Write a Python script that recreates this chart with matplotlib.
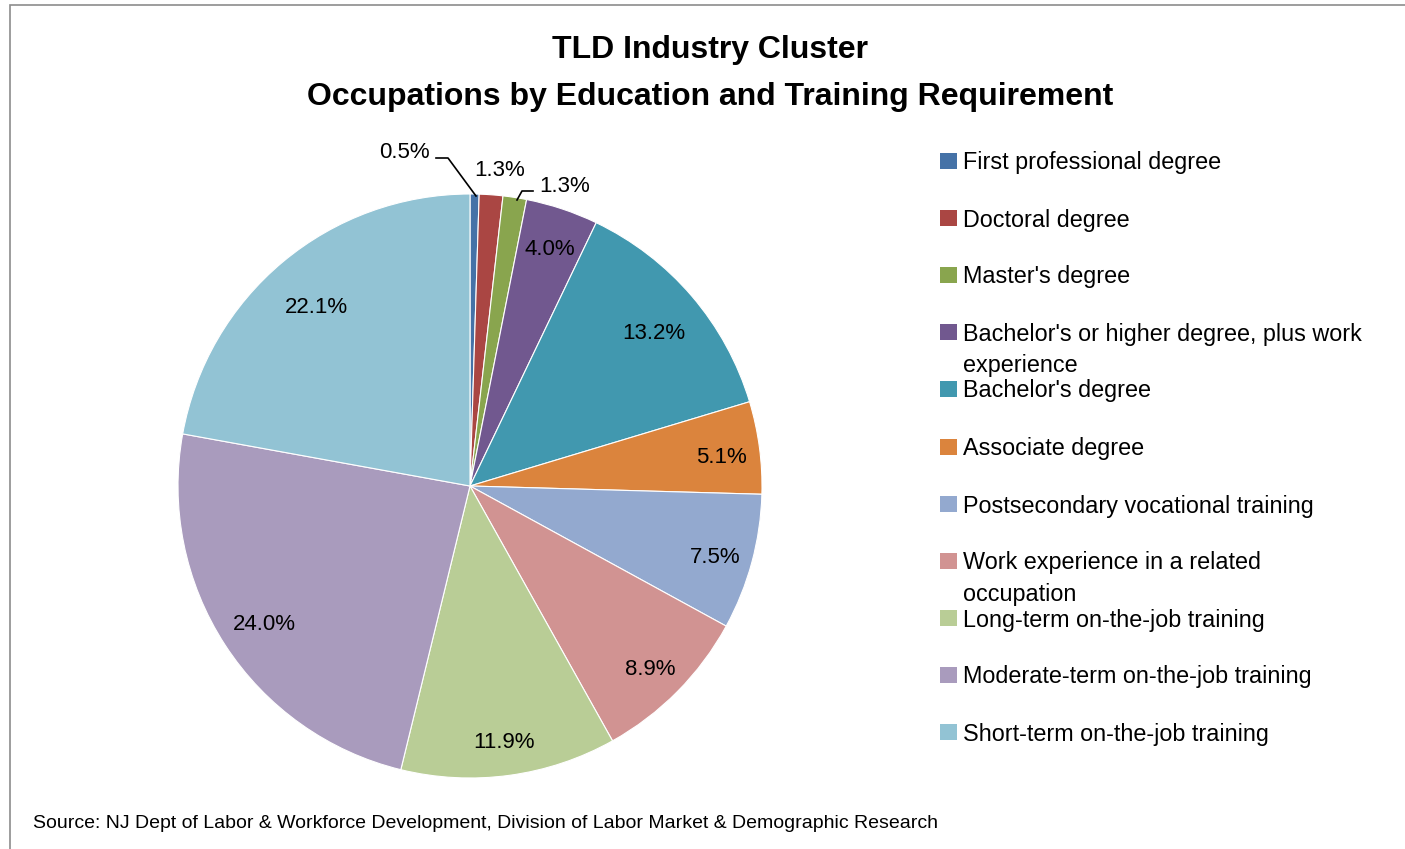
import matplotlib
matplotlib.use("Agg")
import matplotlib.pyplot as plt
from matplotlib.patches import Rectangle
import numpy as np

categories = [
    "First professional degree",
    "Doctoral degree",
    "Master's degree",
    "Bachelor's or higher degree, plus work\nexperience",
    "Bachelor's degree",
    "Associate degree",
    "Postsecondary vocational training",
    "Work experience in a related\noccupation",
    "Long-term on-the-job training",
    "Moderate-term on-the-job training",
    "Short-term on-the-job training",
]
values = [0.5, 1.3, 1.3, 4.0, 13.2, 5.1, 7.5, 8.9, 11.9, 24.0, 22.1]
colors = ["#4572A7", "#AA4643", "#89A54E", "#71588F", "#4198AF", "#DB843D",
          "#93A9CF", "#D19392", "#B9CD96", "#A99BBD", "#92C3D4"]
source = "Source: NJ Dept of Labor & Workforce Development, Division of Labor Market & Demographic Research"

W, H = 1405, 849
fig = plt.figure(figsize=(W / 100, H / 100), dpi=100)
plt.rcParams['font.family'] = ['Liberation Sans', 'DejaVu Sans']

# border
fig.patches.append(Rectangle((10 / W, -0.05), 1.2, 1 - 5 / H + 0.05, transform=fig.transFigure,
                             fill=False, edgecolor="#8c8c8c", linewidth=1.2))

cx, cy, r = 470, 486, 292
ax = fig.add_axes([(cx - r) / W, (H - cy - r) / H, 2 * r / W, 2 * r / H])

wedges, _ = ax.pie(values, colors=colors, startangle=90, counterclock=False,
                   radius=1, wedgeprops=dict(edgecolor="white", linewidth=0.8))
ax.set_xlim(-1, 1)
ax.set_ylim(-1, 1)
ax.set_aspect("equal")
ax.axis("off")

LFS = 16
total = sum(values)
cum = 0
inside_dist = {4: 0.83, 9: 0.84, 10: 0.82}
dy = -5 / r
for i, v in enumerate(values):
    mid = (cum + v / 2) / total
    cum += v
    ang = np.deg2rad(90 - 360 * mid)
    lab = f"{v:.1f}%"
    if i >= 3:
        d = inside_dist.get(i, 0.87)
        ax.text(d * np.cos(ang), d * np.sin(ang) + dy, lab, ha="center", va="center",
                fontsize=LFS)

def px(x, y):
    return ((x - cx) / r, (cy - y) / r)

# outside labels for small slices
ax.text(*px(404, 153), "0.5%", ha="center", va="center", fontsize=LFS, clip_on=False)
ax.plot(*zip(px(476, 196), px(448, 158), px(436, 158)), color="black", lw=1.2, clip_on=False)
ax.text(*px(500, 170), "1.3%", ha="center", va="center", fontsize=LFS, clip_on=False)
ax.text(*px(565, 186), "1.3%", ha="center", va="center", fontsize=LFS, clip_on=False)
ax.plot(*zip(px(517, 200), px(522, 191), px(533, 191)), color="black", lw=1.2, clip_on=False)

# title
fig.text(710 / W, 1 - 50 / H, "TLD Industry Cluster", ha="center", va="center",
         fontsize=23, fontweight="bold")
fig.text(710 / W, 1 - 97 / H, "Occupations by Education and Training Requirement",
         ha="center", va="center", fontsize=23, fontweight="bold")

# legend
leg_y = [161, 218, 275, 332, 389, 447, 504, 561, 618, 675, 732]
for lab, col, y in zip(categories, colors, leg_y):
    fig.patches.append(Rectangle((940 / W, 1 - (y + 8) / H), 17 / W, 16 / H,
                                 transform=fig.transFigure, facecolor=col, edgecolor="none"))
    for k, line in enumerate(lab.split("\n")):
        fig.text(963 / W, 1 - (y + 2 + 32 * k) / H, line, ha="left", va="center", fontsize=16.8)

fig.text(33 / W, 1 - 823 / H, source, ha="left", va="center", fontsize=14)

fig.savefig("out.png", dpi=100)
